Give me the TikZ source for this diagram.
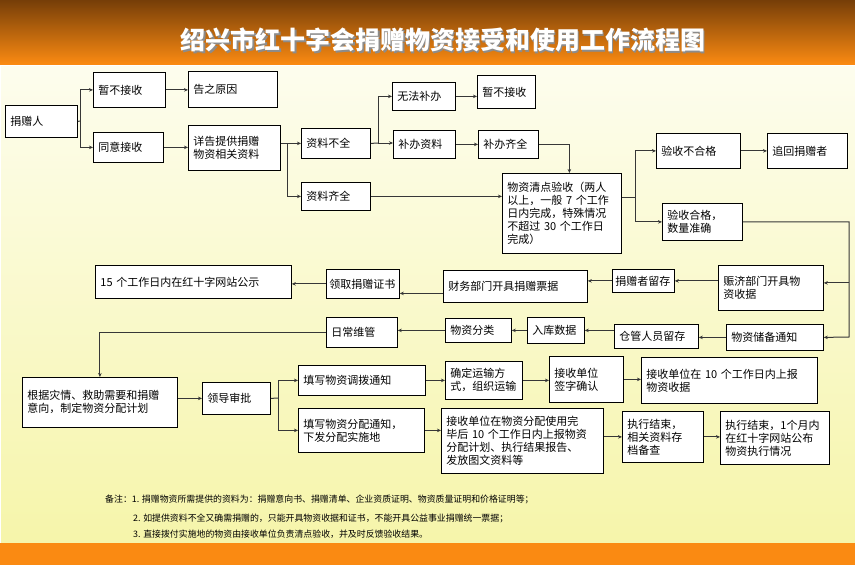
\documentclass[tikz,border=0pt]{standalone}
\usepackage{fontspec}
\setmainfont{Noto Sans CJK SC}
\usepackage{tikz}
\usetikzlibrary{arrows.meta}

\definecolor{hdtop}{RGB}{118,62,8}
\definecolor{hdbot}{RGB}{250,138,18}
\definecolor{bgtop}{RGB}{253,253,238}
\definecolor{bgbot}{RGB}{246,245,170}
\definecolor{linegray}{RGB}{55,55,55}

\tikzset{
  box/.style 2 args={draw=black, line width=0.8pt, fill=white, anchor=north west,
    text width=#1, minimum height=#2, inner xsep=5pt, inner ysep=2pt, align=left,
    font=\fontsize{11}{13}\selectfont},
  line/.style={draw=linegray, line width=1pt},
  note/.style={anchor=west, inner sep=0pt, font=\fontsize{8.9}{11}\selectfont},
}

\begin{document}
\begin{tikzpicture}[x=1pt, y=-1pt, >={Stealth[length=4pt,width=3.5pt]}]
\useasboundingbox (0,0) rectangle (855,565);

%Background
\shade[top color=hdtop, bottom color=hdbot] (0,0) rectangle (855,64);
\shade[top color=bgtop, bottom color=bgbot] (1,66) rectangle (855,543);
\fill[hdbot] (0,543) rectangle (855,565);
\node[text=black!45, font=\fontsize{25}{25}\selectfont\bfseries] (titleshadow) at (444.5,41.5)
  {绍兴市红十字会捐赠物资接受和使用工作流程图};
\node[text=white, font=\fontsize{25}{25}\selectfont\bfseries] (title) at (443,40)
  {绍兴市红十字会捐赠物资接受和使用工作流程图};

%Nodes
\node[box={62pt}{32pt}]  (donor)     at (5,105)   {捐赠人};
\node[box={62pt}{35pt}]  (reject1)   at (93,72)   {暂不接收};
\node[box={79pt}{36pt}]  (reason)    at (188,71)  {告之原因};
\node[box={60pt}{30pt}]  (agree)     at (93,132)  {同意接收};
\node[box={82pt}{45pt}]  (detail)    at (188,125) {详告提供捐赠\\物资相关资料};
\node[box={59pt}{30pt}]  (lack)      at (301,128) {资料不全};
\node[box={53pt}{28pt}]  (cannot)    at (392,82)  {无法补办};
\node[box={52pt}{28pt}]  (supply)    at (393,130) {补办资料};
\node[box={48pt}{33pt}]  (reject2)   at (477,75)  {暂不接收};
\node[box={50pt}{28pt}]  (supplied)  at (478,130) {补办齐全};
\node[box={59pt}{28pt}]  (full)      at (301,182) {资料齐全};
\node[box={109pt}{80pt}] (check)     at (502,173)
  {物资清点验收（两人\\以上，一般 7 个工作\\日内完成，特殊情况\\不超过 30 个工作日\\完成）};
\node[box={74pt}{35pt}]  (fail)      at (656,133) {验收不合格};
\node[box={70pt}{35pt}]  (back)      at (767,133) {追回捐赠者};
\node[box={70pt}{37pt}]  (pass)      at (662,203) {验收合格，\\数量准确};

\node[box={95pt}{45pt}]  (receipt)   at (718,265) {赈济部门开具物\\资收据};
\node[box={56pt}{23pt}, inner xsep=3pt] (keep) at (612,269) {捐赠者留存};
\node[box={134pt}{32pt}] (finance)   at (443,270) {财务部门开具捐赠票据};
\node[box={67pt}{29pt}, inner xsep=3pt] (cert) at (326,269) {领取捐赠证书};
\node[box={186pt}{33pt}] (public)    at (95,265)  {15 个工作日内在红十字网站公示};

\node[box={87pt}{26pt}]  (notice)    at (726,324) {物资储备通知};
\node[box={74pt}{24pt}]  (store)     at (614,324) {仓管人员留存};
\node[box={47pt}{26pt}]  (inbound)   at (527,317) {入库数据};
\node[box={56pt}{24pt}]  (sort)      at (445,318) {物资分类};
\node[box={61pt}{30pt}]  (maint)     at (326,317) {日常维管};

\node[box={145pt}{50pt}] (plan)      at (22,377)  {根据灾情、救助需要和捐赠\\意向，制定物资分配计划};
\node[box={58pt}{32pt}]  (approve)   at (202,382) {领导审批};
\node[box={117pt}{30pt}] (transfer)  at (298,365) {填写物资调拨通知};
\node[box={116pt}{44pt}] (alloc)     at (298,408) {填写物资分配通知，\\下发分配实施地};
\node[box={67pt}{38pt}]  (transport) at (445,361) {确定运输方\\式，组织运输};
\node[box={64pt}{46pt}]  (sign)      at (549,356) {接收单位\\签字确认};
\node[box={166pt}{46pt}] (report)    at (641,357) {接收单位在 10 个工作日内上报\\物资收据};
\node[box={152pt}{65pt}] (usage)     at (441,408)
  {接收单位在物资分配使用完\\毕后 10 个工作日内上报物资\\分配计划、执行结果报告、\\发放图文资料等};
\node[box={71pt}{51pt}]  (archive)   at (622,411) {执行结束，\\相关资料存\\档备查};
\node[box={99pt}{53pt}]  (publish)   at (720,411) {执行结束，1个月内\\在红十字网站公布\\物资执行情况};

\node[note] (note1) at (105,499)
  {备注：1. 捐赠物资所需提供的资料为：捐赠意向书、捐赠清单、企业资质证明、物资质量证明和价格证明等；};
\node[note] (note2) at (133,518)
  {2. 如提供资料不全又确需捐赠的，只能开具物资收据和证书，不能开具公益事业捐赠统一票据；};
\node[note] (note3) at (133,534)
  {3. 直接拨付实施地的物资由接收单位负责清点验收，并及时反馈验收结果。};

%Junctions
\coordinate (j1) at (80,121);
\coordinate (j2) at (287,143);
\coordinate (j3) at (378,143);
\coordinate (j5) at (635,197);
\coordinate (j6) at (849,337);
\coordinate (j8) at (278,398);

%Lines
\draw[line]     (donor.east) -- (j1);
\draw[line,->]  (j1) |- (reject1.west);
\draw[line,->]  (j1) |- (agree.west);
\draw[line,->]  (reject1.east) -- (reject1.east -| reason.west);
\draw[line,->]  (agree.east) -- (agree.east -| detail.west);

\draw[line,->]  (detail.east |- lack.west) -- (lack.west);
\draw[line,->]  (j2) |- (full.west);
\draw[line]     (lack.east) -- (j3);
\draw[line,->]  (j3) |- (cannot.west);
\draw[line,->]  (j3) -- (j3 -| supply.west);
\draw[line,->]  (cannot.east) -- (cannot.east -| reject2.west);
\draw[line,->]  (supply.east) -- (supply.east -| supplied.west);
\draw[line,->]  (supplied.east) -| ([xshift=7.5pt]check.north);
\draw[line,->]  (full.east) -- (full.east -| check.west);

\draw[line]     (check.east |- j5) -- (j5);
\draw[line,->]  (j5) |- (fail.west);
\draw[line,->]  (j5) |- (pass.west);
\draw[line,->]  (fail.east) -- (fail.east -| back.west);
\draw[line,->]  (pass.east) -| (j6) -- (notice.east);
\draw[line,->]  ([yshift=5pt]receipt.east -| j6) -- ([yshift=5pt]receipt.east);

\draw[line,->]  (receipt.west |- keep.east) -- (keep.east);
\draw[line,->]  (keep.west) -- (keep.west -| finance.east);
\draw[line,->]  ([yshift=-7pt]finance.west) -- ([yshift=-7pt]finance.west -| cert.east);
\draw[line,->]  (cert.west) -- (cert.west -| public.east);

\draw[line,->]  (notice.west) -- (notice.west -| store.east);
\draw[line,->]  (inbound.east -| store.west) -- (inbound.east);
\draw[line,->]  (inbound.west) -- (inbound.west -| sort.east);
\draw[line,->]  (sort.west) -- (sort.west -| maint.east);
\draw[line,->]  (maint.west) -| (plan.north);

\draw[line,->]  (plan.east |- approve.west) -- (approve.west);
\draw[line]     (approve.east) -- (j8);
\draw[line,->]  (j8) |- (transfer.west);
\draw[line,->]  (j8) |- (alloc.west);
\draw[line,->]  (transfer.east) -- (transfer.east -| transport.west);
\draw[line,->]  (transport.east) -- (transport.east -| sign.west);
\draw[line,->]  (sign.east) -- (sign.east -| report.west);
\draw[line,->]  (alloc.east) -- (alloc.east -| usage.west);
\draw[line,->]  (archive.west -| usage.east) -- (archive.west);
\draw[line,->]  (archive.east) -- (archive.east -| publish.west);
\end{tikzpicture}
\end{document}
